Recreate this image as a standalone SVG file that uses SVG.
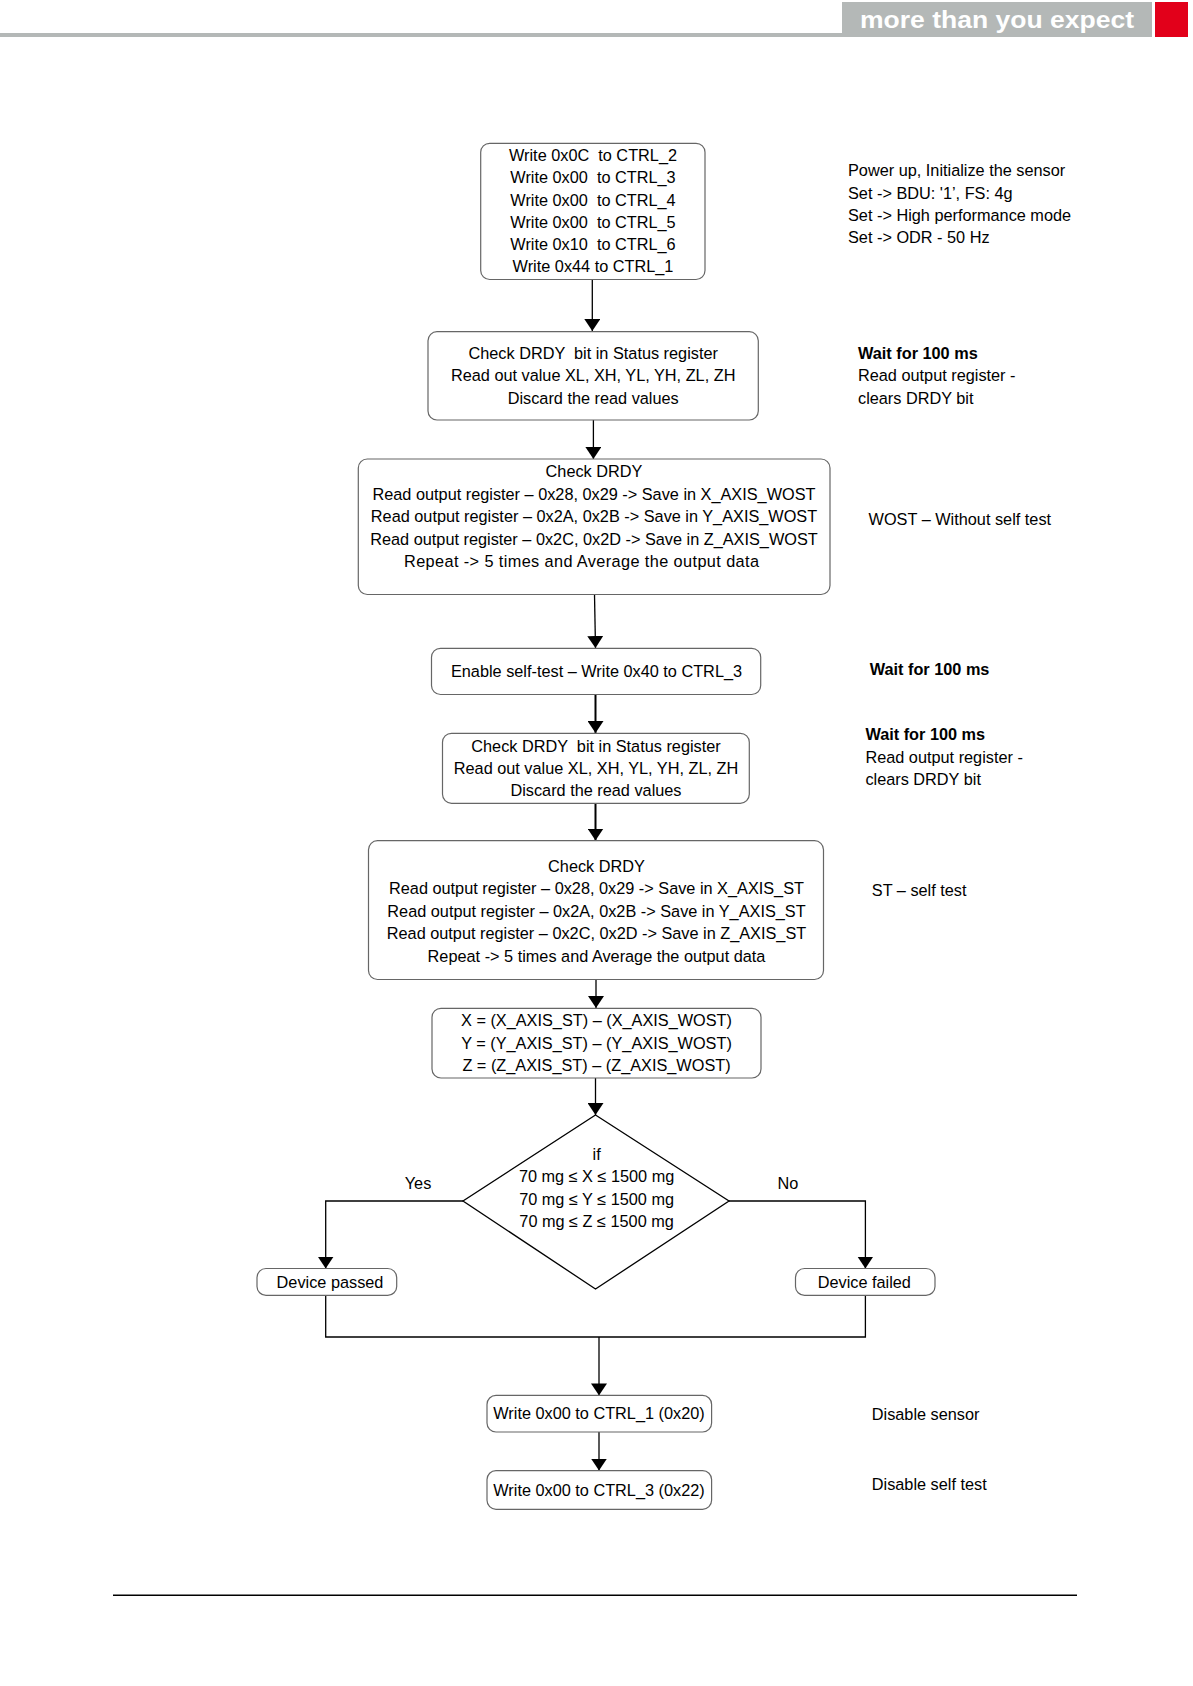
<svg xmlns="http://www.w3.org/2000/svg" width="1193" height="1686" viewBox="0 0 1193 1686">
<style>
  text { font-family: "Liberation Sans", Arial, sans-serif; font-size: 16.3px; fill: #000; white-space: pre; }
  .c { text-anchor: middle; }
  .b { font-weight: bold; }
  .box { fill: #fff; stroke: #666; stroke-width: 1.2; }
  .ln { fill: none; stroke: #000; stroke-width: 1.3; }
  .thk { fill: none; stroke: #000; stroke-width: 2; }
</style>
<defs>
  <marker id="ah" viewBox="0 0 12 16" refX="12" refY="8" markerWidth="12" markerHeight="16" markerUnits="userSpaceOnUse" orient="auto">
    <path d="M0,0 L12,8 L0,16 Z" fill="#000"/>
  </marker>
</defs>
<rect width="1193" height="1686" fill="#fff"/>
<g id="header">
  <rect x="0" y="33" width="842" height="4" fill="#b4b8b7"/>
  <rect x="842" y="2" width="310" height="35" fill="#b4b8b7"/>
  <rect x="1155" y="2" width="33" height="35" fill="#e2001a"/>
  <text x="860" y="28" class="b" style="font-size:24px;fill:#fff" textLength="274" lengthAdjust="spacingAndGlyphs">more than you expect</text>
</g>
<g id="connectors">
  <line class="ln" x1="592.3" y1="279.5" x2="592.3" y2="331" marker-end="url(#ah)"/>
  <line class="ln" x1="593.4" y1="420" x2="593.4" y2="459" marker-end="url(#ah)"/>
  <line class="ln" x1="594.5" y1="594.5" x2="595.5" y2="648" marker-end="url(#ah)"/>
  <line class="thk" x1="595.5" y1="694.5" x2="595.5" y2="733" marker-end="url(#ah)"/>
  <line class="thk" x1="595.5" y1="803" x2="595.5" y2="840.5" marker-end="url(#ah)"/>
  <line class="ln" x1="596" y1="979.5" x2="596" y2="1008" marker-end="url(#ah)"/>
  <line class="ln" x1="595.5" y1="1078" x2="595.5" y2="1115" marker-end="url(#ah)"/>
  <polyline class="ln" points="463,1201 325.7,1201 325.7,1268.5" marker-end="url(#ah)"/>
  <polyline class="ln" points="729,1201 865.4,1201 865.4,1268.5" marker-end="url(#ah)"/>
  <polyline class="ln" points="325.7,1295.4 325.7,1337 865.4,1337 865.4,1295.4"/>
  <line class="ln" x1="599" y1="1337" x2="599" y2="1395.4" marker-end="url(#ah)"/>
  <line class="ln" x1="599" y1="1432" x2="599" y2="1470.6" marker-end="url(#ah)"/>
  <text x="418" y="1189" class="c">Yes</text>
  <text x="788" y="1189" class="c">No</text>
</g>
<g id="n1">
  <rect class="box" x="480.7" y="143.3" width="224.3" height="136.2" rx="9"/>
  <text x="593" y="161" class="c">Write 0x0C  to CTRL_2</text>
  <text x="593" y="183.3" class="c">Write 0x00  to CTRL_3</text>
  <text x="593" y="205.5" class="c">Write 0x00  to CTRL_4</text>
  <text x="593" y="227.7" class="c">Write 0x00  to CTRL_5</text>
  <text x="593" y="250" class="c">Write 0x10  to CTRL_6</text>
  <text x="593" y="272.3" class="c">Write 0x44 to CTRL_1</text>
</g>
<g id="n2">
  <rect class="box" x="428" y="331.7" width="330.3" height="88.3" rx="9"/>
  <text x="593.2" y="358.6" class="c">Check DRDY  bit in Status register</text>
  <text x="593.2" y="381" class="c">Read out value XL, XH, YL, YH, ZL, ZH</text>
  <text x="593.2" y="403.8" class="c">Discard the read values</text>
</g>
<g id="n3">
  <rect class="box" x="358.3" y="459" width="471.7" height="135.5" rx="9"/>
  <text x="594" y="477" class="c">Check DRDY</text>
  <text x="594" y="499.6" class="c">Read output register – 0x28, 0x29 -&gt; Save in X_AXIS_WOST</text>
  <text x="594" y="522.2" class="c">Read output register – 0x2A, 0x2B -&gt; Save in Y_AXIS_WOST</text>
  <text x="594" y="544.8" class="c">Read output register – 0x2C, 0x2D -&gt; Save in Z_AXIS_WOST</text>
  <text x="404" y="567.4" textLength="355" lengthAdjust="spacing">Repeat -&gt; 5 times and Average the output data</text>
</g>
<g id="n4">
  <rect class="box" x="431.5" y="648.3" width="329.2" height="46.2" rx="9"/>
  <text x="596.5" y="676.8" class="c">Enable self-test – Write 0x40 to CTRL_3</text>
</g>
<g id="n5">
  <rect class="box" x="442.5" y="733.3" width="306.8" height="70" rx="9"/>
  <text x="596" y="752" class="c">Check DRDY  bit in Status register</text>
  <text x="596" y="773.8" class="c">Read out value XL, XH, YL, YH, ZL, ZH</text>
  <text x="596" y="795.6" class="c">Discard the read values</text>
</g>
<g id="n6">
  <rect class="box" x="368.5" y="840.7" width="455" height="138.8" rx="9"/>
  <text x="596.5" y="871.5" class="c">Check DRDY</text>
  <text x="596.5" y="894" class="c">Read output register – 0x28, 0x29 -&gt; Save in X_AXIS_ST</text>
  <text x="596.5" y="916.5" class="c">Read output register – 0x2A, 0x2B -&gt; Save in Y_AXIS_ST</text>
  <text x="596.5" y="939" class="c">Read output register – 0x2C, 0x2D -&gt; Save in Z_AXIS_ST</text>
  <text x="596.5" y="961.5" class="c">Repeat -&gt; 5 times and Average the output data</text>
</g>
<g id="n7">
  <rect class="box" x="432" y="1008.3" width="329" height="69.7" rx="9"/>
  <text x="596.5" y="1026.3" class="c">X = (X_AXIS_ST) – (X_AXIS_WOST)</text>
  <text x="596.5" y="1048.8" class="c">Y = (Y_AXIS_ST) – (Y_AXIS_WOST)</text>
  <text x="596.5" y="1071.3" class="c">Z = (Z_AXIS_ST) – (Z_AXIS_WOST)</text>
</g>
<g id="decision">
  <polygon points="595.5,1115 729,1201 595.5,1289 463,1201" fill="#fff" stroke="#000" stroke-width="1.3"/>
  <text x="596.6" y="1159.5" class="c">if</text>
  <text x="596.6" y="1182" class="c">70 mg ≤ X ≤ 1500 mg</text>
  <text x="596.6" y="1204.6" class="c">70 mg ≤ Y ≤ 1500 mg</text>
  <text x="596.6" y="1227" class="c">70 mg ≤ Z ≤ 1500 mg</text>
</g>
<g id="passed">
  <rect class="box" x="257" y="1268.5" width="139.7" height="26.9" rx="9"/>
  <text x="330" y="1287.5" class="c">Device passed</text>
</g>
<g id="failed">
  <rect class="box" x="795.5" y="1268.5" width="139.5" height="26.9" rx="9"/>
  <text x="864.3" y="1287.5" class="c">Device failed</text>
</g>
<g id="n8">
  <rect class="box" x="487" y="1395.4" width="224.6" height="36.6" rx="9"/>
  <text x="599" y="1419" class="c">Write 0x00 to CTRL_1 (0x20)</text>
</g>
<g id="n9">
  <rect class="box" x="487" y="1470.6" width="224.6" height="38.7" rx="9"/>
  <text x="599" y="1496" class="c">Write 0x00 to CTRL_3 (0x22)</text>
</g>
<g id="notes">
  <text x="848" y="176">Power up, Initialize the sensor</text>
  <text x="848" y="198.5">Set -&gt; BDU: '1’, FS: 4g</text>
  <text x="848" y="221">Set -&gt; High performance mode</text>
  <text x="848" y="243">Set -&gt; ODR - 50 Hz</text>
  <text x="858" y="358.6" class="b">Wait for 100 ms</text>
  <text x="858" y="381">Read output register -</text>
  <text x="858" y="403.8">clears DRDY bit</text>
  <text x="868.6" y="525">WOST – Without self test</text>
  <text x="869.7" y="674.7" class="b">Wait for 100 ms</text>
  <text x="865.4" y="740" class="b">Wait for 100 ms</text>
  <text x="865.4" y="762.8">Read output register -</text>
  <text x="865.4" y="785">clears DRDY bit</text>
  <text x="871.8" y="896">ST – self test</text>
  <text x="871.8" y="1419.6">Disable sensor</text>
  <text x="871.8" y="1489.5">Disable self test</text>
</g>
<line x1="113" y1="1595.3" x2="1077" y2="1595.3" stroke="#000" stroke-width="1.5"/>
</svg>
